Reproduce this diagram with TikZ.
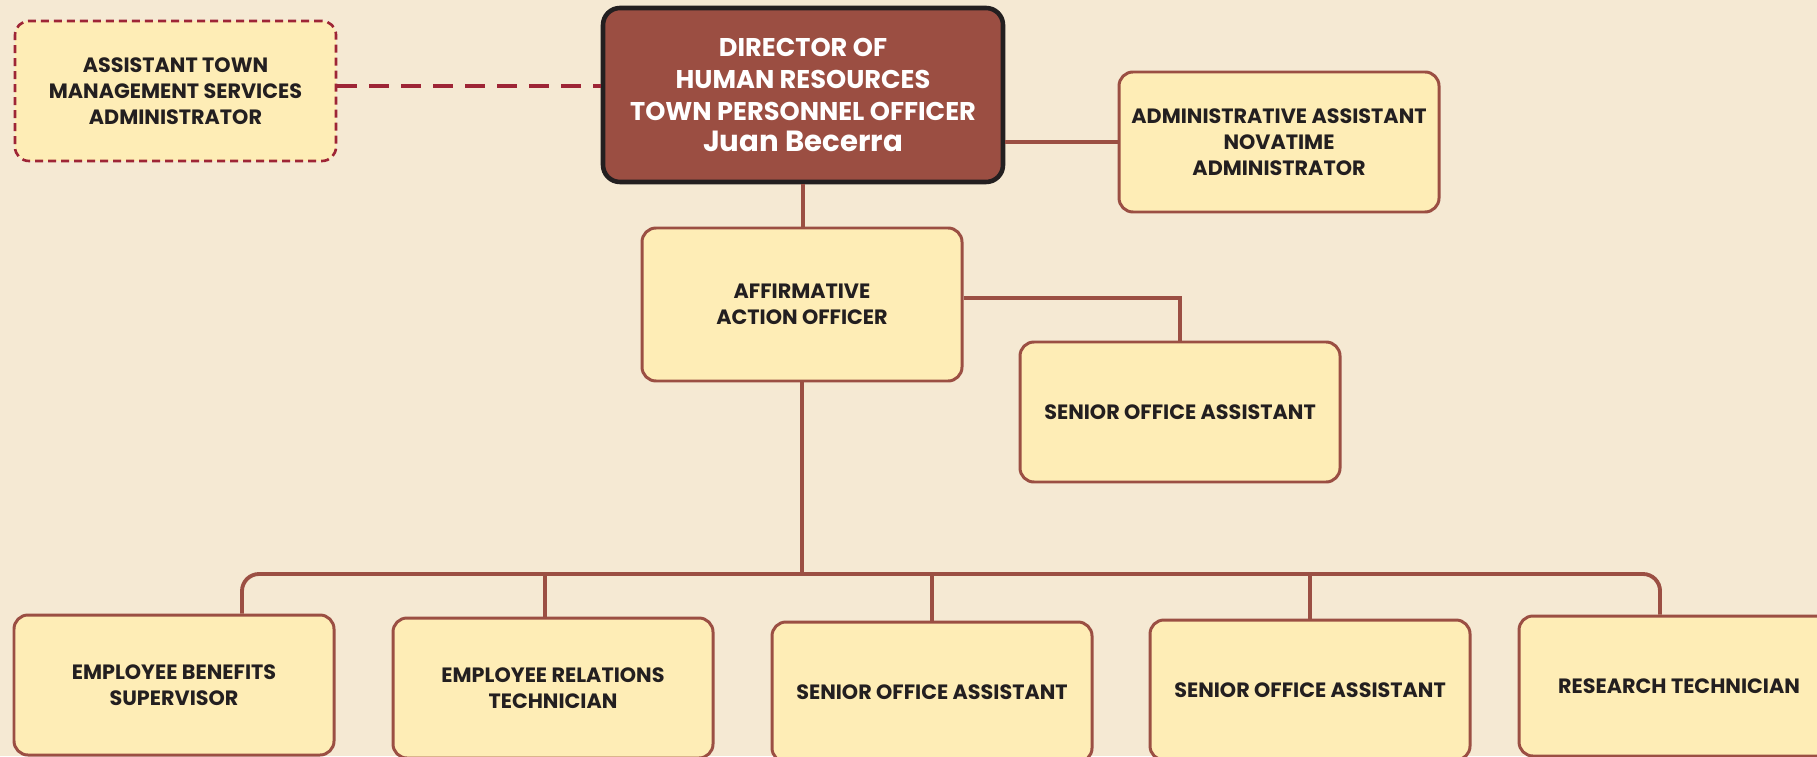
\documentclass[tikz,border=0pt]{standalone}
\usepackage{fontspec}
\setmainfont{Poppins}
\definecolor{paper}{HTML}{F5E9D3}
\definecolor{cream}{HTML}{FEEDB6}
\definecolor{rust}{HTML}{9B4F43}
\definecolor{brick}{HTML}{9B4E42}
\definecolor{wine}{HTML}{9E2536}
\definecolor{ink}{HTML}{231F20}

\begin{document}
\begin{tikzpicture}[
    box/.style={draw=rust, fill=cream, line width=0.85pt, rounded corners=0.14cm, minimum width=3.2cm, minimum height=1.4cm, align=center, text=ink, font=\bfseries\fontsize{5.9}{7.4}\selectfont},
    head/.style={draw=ink, fill=brick, line width=1.3pt, rounded corners=0.17cm, minimum width=4cm, minimum height=1.74cm, align=center, text=white, font=\bfseries\fontsize{7.3}{9.1}\selectfont},
    link/.style={draw=rust, line width=1pt},
    dashlink/.style={draw=wine, line width=1.1pt, dash pattern=on 0.2cm off 0.12cm}]
        \useasboundingbox (0,0) rectangle (18.17,7.56);
        \fill[paper] (0,0) rectangle (18.17,7.56);

        \node[head] (dir) at (8.03, 6.61) {DIRECTOR OF\\HUMAN RESOURCES\\TOWN PERSONNEL OFFICER\\{\fontsize{8.3}{9.1}\selectfont Juan Becerra}};
        \node[box, draw=wine, line width=0.75pt, dash pattern=on 0.08cm off 0.05cm, minimum width=3.21cm] (asst) at (1.755, 6.65) {ASSISTANT TOWN\\MANAGEMENT SERVICES\\ADMINISTRATOR};
        \node[box] (admin) at (12.79, 6.14) {ADMINISTRATIVE ASSISTANT\\NOVATIME\\ADMINISTRATOR};
        \node[box, minimum height=1.53cm] (aao) at (8.02, 4.515) {AFFIRMATIVE\\ACTION OFFICER};
        \node[box] (soa1) at (11.80, 3.44) {SENIOR OFFICE ASSISTANT};

        \node[box] (ebs) at (1.74, 0.71) {EMPLOYEE BENEFITS\\SUPERVISOR};
        \node[box] (ert) at (5.53, 0.68) {EMPLOYEE RELATIONS\\TECHNICIAN};
        \node[box] (soa2) at (9.32, 0.64) {SENIOR OFFICE ASSISTANT};
        \node[box] (soa3) at (13.10, 0.66) {SENIOR OFFICE ASSISTANT};
        \node[box] (rt) at (16.79, 0.70) {RESEARCH TECHNICIAN};
        \coordinate (bus) at (8.02, 1.82);

        \draw[dashlink] ([yshift=0.05cm]asst.east) -- ([yshift=0.05cm]asst.east -| dir.west);
        \draw[link] (dir.south) -- (dir.south |- aao.north);
        \draw[link] (admin.west -| dir.east) -- (admin.west);
        \draw[link] ([yshift=0.065cm]aao.east) -| (soa1.north);
        \draw[link] (aao.south) -- (aao.south |- bus);
        \draw[link, line width=1.1pt, rounded corners=0.17cm] ([xshift=0.68cm]ebs.north) |- (bus) -| ([xshift=-0.19cm]rt.north);
        \draw[link] ([xshift=-0.08cm]ert.north |- bus) -- ([xshift=-0.08cm]ert.north);
        \foreach \b in {soa2, soa3}
            \draw[link] (\b.north |- bus) -- (\b.north);
\end{tikzpicture}
\end{document}
